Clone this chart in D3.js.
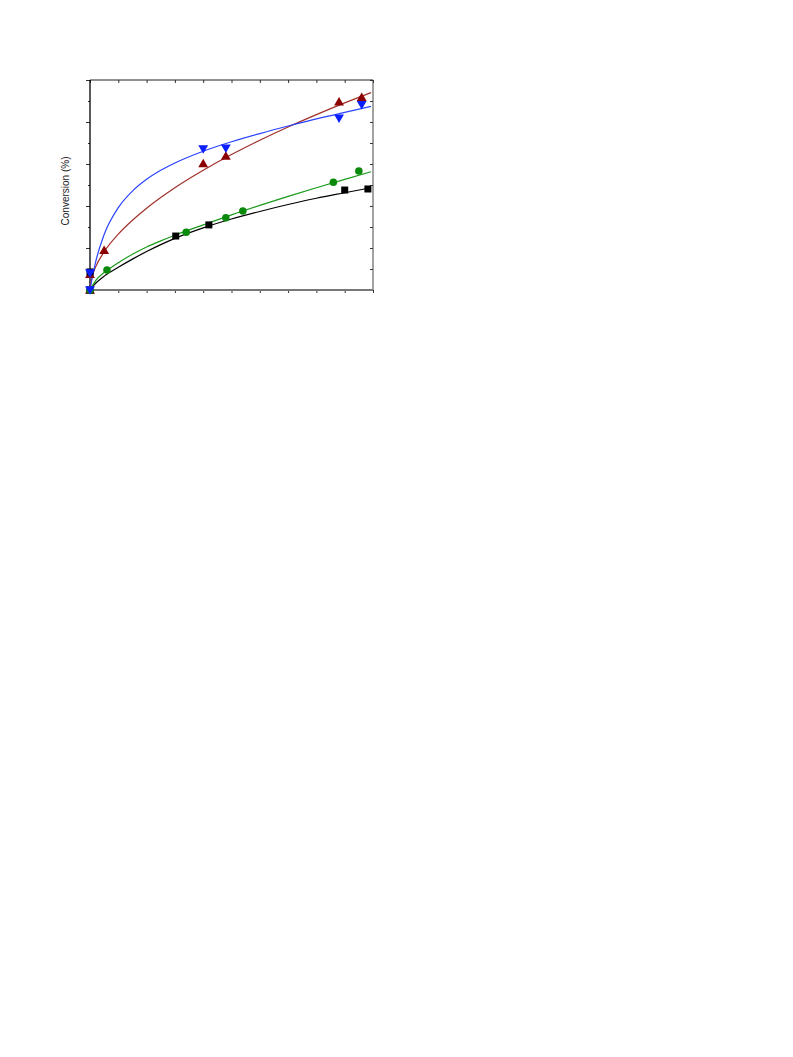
<!DOCTYPE html>
<html><head><meta charset="utf-8">
<script src="https://cdn.jsdelivr.net/npm/d3@7"></script>
<style>body{margin:0;background:#fff}</style>
</head><body>
<svg id="c" width="793" height="1057"></svg>
<script>
// x ticks (no labels shown), y ticks
const xTicks = [0,1,2,3,4,5,6,7,8,9,10];
const yMajor = [0,20,40,60,80,100];
const yMinor = [10,30,50,70,90];

// measured points
const blackX = [0, 0, 3.03, 4.2, 9.0, 9.82];
const blackY = [0, 8.6, 25.7, 31.0, 47.6, 48.1];
const greenX = [0, 0.6, 3.4, 4.8, 5.4, 8.6, 9.5];
const greenY = [0, 9.5, 27.5, 34.4, 37.6, 51.3, 56.7];
const redX = [0, 0, 0.5, 4.0, 4.8, 8.8, 9.6];
const redY = [0, 7.5, 19.0, 60.3, 63.8, 89.7, 91.8];
const blueX = [0, 0, 4.0, 4.8, 8.8, 9.6];
const blueY = [0, 8.0, 67.1, 67.5, 81.8, 88.2];

// fitted curves
const curveX =   [0, 0.01, 0.05, 0.2, 0.5, 1, 1.5, 2, 2.5, 3, 4, 5, 6, 7, 8, 9, 9.93];
const blackFit = [0, 0.3, 1.0, 3.2, 6.6, 10.8, 14.7, 18.3, 21.6, 24.6, 29.6, 33.8, 37.4, 40.7, 43.7, 46.3, 48.7];
const greenFit = [0, 0.3, 1.2, 4.5, 8.3, 13.0, 17.0, 20.5, 23.4, 26.1, 31.0, 35.8, 40.3, 44.6, 48.7, 52.7, 56.3];
const redFit =   [0, 2.1, 5.1, 11.0, 18.2, 26.6, 33.2, 38.9, 44.0, 48.7, 57.0, 64.5, 71.3, 77.6, 83.5, 89.1, 94.0];
const blueFit =  [0, 0.8, 3.8, 13.4, 26.4, 39.2, 47.1, 52.7, 57.0, 60.5, 66.1, 70.6, 74.5, 78.1, 81.5, 84.6, 87.4];

const svg = d3.select('#c');
const L = 90, R = 373, T = 80, B = 290;
const x = d3.scaleLinear().domain([0,10]).range([L,R]);
const y = d3.scaleLinear().domain([0,100]).range([B,T]);

const COL = {black:'#000000', green:'#0a8a0a', greenLine:'#1a9a1a', red:'#8b0000', redLine:'#a0302a', blue:'#0a1eff', blueLine:'#2a44ff'};

const g = svg.append('g');
function tickStyle(s){ s.select('.domain').remove(); s.selectAll('line').attr('stroke','#333'); }
g.append('g').attr('transform',`translate(0,${B})`)
  .call(d3.axisBottom(x).tickValues(xTicks).tickSize(3).tickFormat('')).call(tickStyle);
g.append('g').attr('transform',`translate(0,${T})`)
  .call(d3.axisTop(x).tickValues(xTicks).tickSize(-3).tickFormat('')).call(tickStyle);
g.append('g').attr('transform',`translate(${L},0)`)
  .call(d3.axisLeft(y).tickValues(yMajor).tickSize(4).tickFormat('')).call(tickStyle);
g.append('g').attr('transform',`translate(${L},0)`)
  .call(d3.axisLeft(y).tickValues(yMinor).tickSize(2).tickFormat('')).call(tickStyle);
g.append('g').attr('transform',`translate(${R},0)`)
  .call(d3.axisRight(y).tickValues(yMajor.concat(yMinor)).tickSize(-3).tickFormat('')).call(tickStyle);

// frame
g.append('line').attr('x1',L).attr('x2',R).attr('y1',T).attr('y2',T).attr('stroke','#222').attr('stroke-width',1);
g.append('line').attr('x1',R).attr('x2',R).attr('y1',T).attr('y2',B).attr('stroke','#444').attr('stroke-width',1);
g.append('line').attr('x1',L).attr('x2',R).attr('y1',B).attr('y2',B).attr('stroke','#777').attr('stroke-width',2);
g.append('line').attr('x1',L).attr('x2',L).attr('y1',T).attr('y2',B).attr('stroke','#000').attr('stroke-width',1.3);

// y label
svg.append('text').attr('transform',`translate(69,191) rotate(-90)`)
  .attr('text-anchor','middle').attr('font-family','Liberation Sans, Arial, sans-serif')
  .attr('font-size',10).attr('fill','#222').text('Conversion (%)');

const line = d3.line().x(d=>x(d[0])).y(d=>y(d[1])).curve(d3.curveMonotoneX);
function drawFit(vals, color){
  svg.append('path').datum(curveX.map((v,i)=>[v, vals[i]]))
    .attr('d', line).attr('fill','none').attr('stroke',color).attr('stroke-width',1.2);
}
drawFit(blackFit, COL.black);
drawFit(greenFit, COL.greenLine);
drawFit(redFit, COL.redLine);
drawFit(blueFit, COL.blueLine);

function pts(xs, ys){ return xs.map((v,i)=>[v, ys[i]]); }
const tri = d3.symbol().type(d3.symbolTriangle).size(42);
svg.append('g').selectAll('path').data(pts(redX, redY)).join('path')
  .attr('d', tri).attr('transform', d=>`translate(${x(d[0])},${y(d[1])+1})`).attr('fill', COL.red);
svg.append('g').selectAll('rect').data(pts(blackX, blackY)).join('rect')
  .attr('x', d=>x(d[0])-3.5).attr('y', d=>y(d[1])-3.5).attr('width',7).attr('height',7).attr('fill', COL.black);
svg.append('g').selectAll('circle').data(pts(greenX, greenY)).join('circle')
  .attr('cx', d=>x(d[0])).attr('cy', d=>y(d[1])).attr('r',3.8).attr('fill', COL.green);
svg.append('g').selectAll('path').data(pts(blueX, blueY)).join('path')
  .attr('d', tri).attr('transform', d=>`translate(${x(d[0])},${y(d[1])-1}) rotate(180)`).attr('fill', COL.blue);
</script>
</body></html>
